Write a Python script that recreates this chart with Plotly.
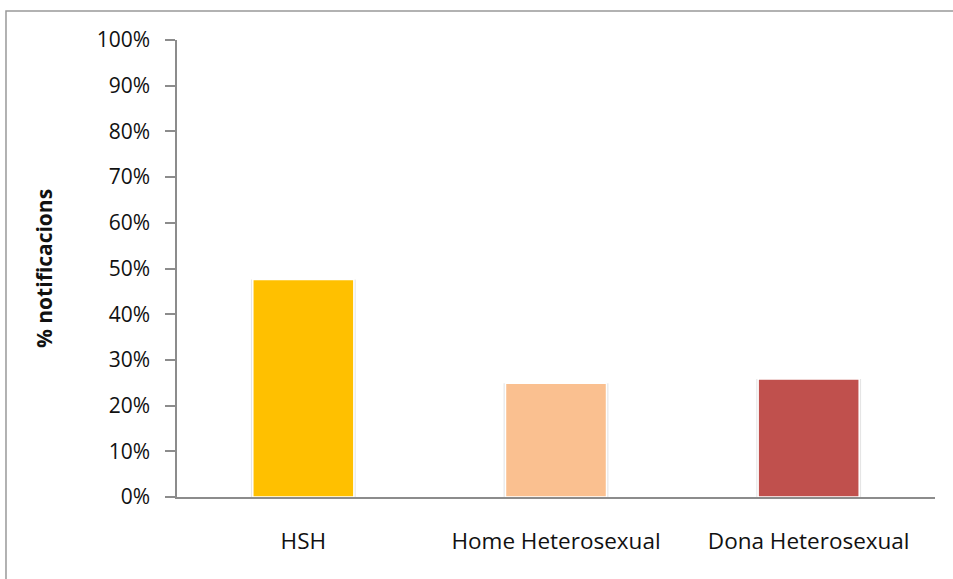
import plotly.graph_objects as go

# Share of notifications by transmission group
categories = ["HSH", "Home Heterosexual", "Dona Heterosexual"]
percent_values = [47.6, 24.9, 25.8]
bar_colors = ["#FFC000", "#FAC090", "#C0504D"]
y_ticks = list(range(0, 101, 10))
y_tick_labels = [f"{v}%" for v in y_ticks]

FONT = "Open Sans"
AXIS_GREY = "#8c8c8c"
TEXT = "#111111"

fig = go.Figure()

# soft shadow behind each bar
fig.add_trace(go.Bar(
    x=categories, y=percent_values, width=0.415,
    marker=dict(color="rgba(0,0,0,0.10)", line=dict(width=0)),
    hoverinfo="skip", showlegend=False,
))
# the bars themselves, with a thin white outline
fig.add_trace(go.Bar(
    x=categories, y=percent_values, width=0.4,
    marker=dict(color=bar_colors, line=dict(color="white", width=1.5)),
    showlegend=False,
))

fig.update_layout(
    width=953, height=579,
    margin=dict(l=177, r=18, t=40, b=82),
    paper_bgcolor="white", plot_bgcolor="white",
    barmode="overlay",
    font=dict(family=FONT, size=22, color=TEXT),
    shapes=[dict(
        type="rect", xref="paper", yref="paper",
        x0=-0.2256, x1=1.2, y0=-0.5, y1=1.0635,
        line=dict(color="#999999", width=1.5), layer="below",
    )],
)

fig.update_xaxes(
    showline=True, linecolor=AXIS_GREY, linewidth=1.5,
    showgrid=False, zeroline=False, ticks="",
    ticklabelstandoff=23,
    tickfont=dict(family=FONT, size=22.5, color=TEXT),
)
fig.update_yaxes(
    range=[0, 100], tickmode="array", tickvals=y_ticks, ticktext=y_tick_labels,
    showline=True, linecolor=AXIS_GREY, linewidth=1.5,
    ticks="outside", ticklen=10, tickwidth=1.5, tickcolor=AXIS_GREY,
    ticklabelstandoff=11,
    showgrid=False, zeroline=False,
    tickfont=dict(family=FONT, size=21, color=TEXT),
    title=dict(text="<b>% notificacions</b>", standoff=38,
               font=dict(family=FONT, size=21, color=TEXT)),
)

fig.write_html("out.html")
